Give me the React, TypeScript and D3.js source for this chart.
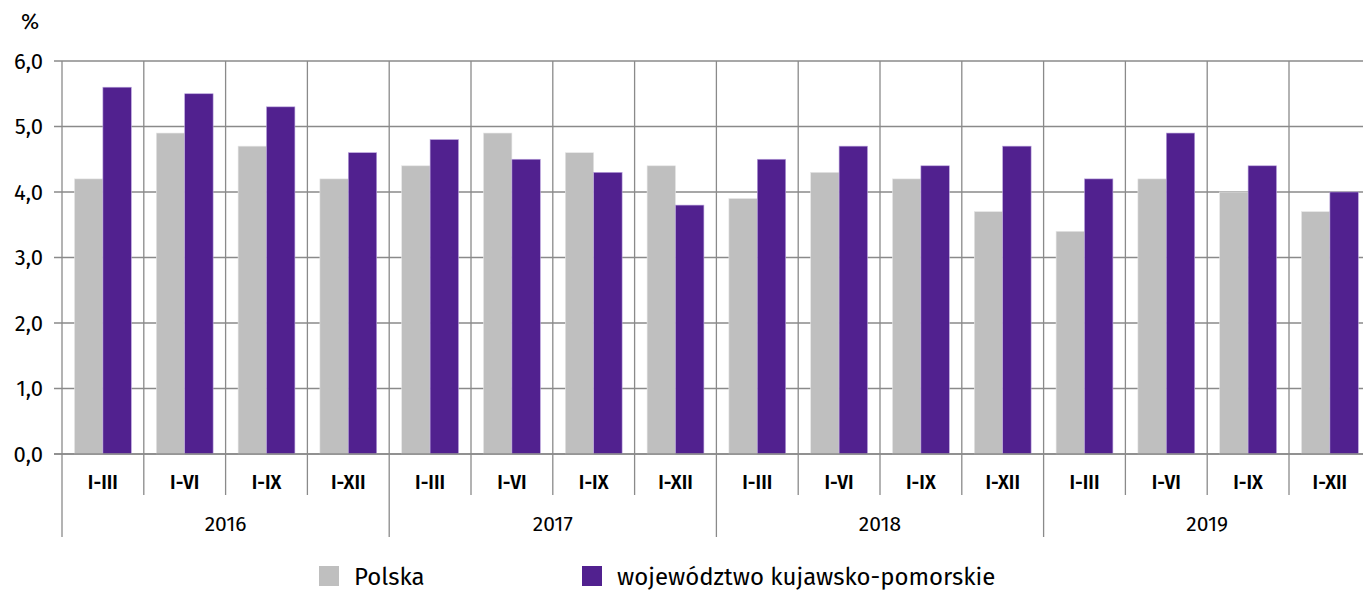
import React from "react";
import * as d3 from "d3";

const years = ["2016", "2017", "2018", "2019"];
const periods = ["I-III", "I-VI", "I-IX", "I-XII"];
const polska = [4.2, 4.9, 4.7, 4.2, 4.4, 4.9, 4.6, 4.4, 3.9, 4.3, 4.2, 3.7, 3.4, 4.2, 4.0, 3.7];
const kujawsko = [5.6, 5.5, 5.3, 4.6, 4.8, 4.5, 4.3, 3.8, 4.5, 4.7, 4.4, 4.7, 4.2, 4.9, 4.4, 4.0];
const yTicks = [0, 1, 2, 3, 4, 5, 6];
const seriesNames = ["Polska", "województwo kujawsko-pomorskie"];
const colors = ["#BFBFBF", "#51218F"];

const W = 1363;
const H = 590;
const left = 62;
const catW = 81.8;
const top = 61;
const bottom = 454;
const FONT = "'Fira Sans', 'Open Sans', 'Noto Sans', sans-serif";

export default function App() {
  const cats = years.flatMap((y) => periods.map((p) => `${y} ${p}`));
  const x = d3.scaleBand<string>().domain(cats).range([left, left + catW * cats.length]).paddingInner(0).paddingOuter(0);
  const inner = d3.scaleBand<string>().domain(["p", "k"]).range([0, x.bandwidth()]).paddingInner(0).paddingOuter(0.44);
  const y = d3.scaleLinear().domain([0, 6]).range([bottom, top]);
  const fmt = (v: number) => d3.format(".1f")(v).replace(".", ",");
  const gridColor = "#8a8a8a";

  return (
    <div style={{ position: "absolute", left: 0, top: 0 }}>
      <svg width={W} height={H} style={{ display: "block" }}>
        <rect width={W} height={H} fill="#fff" />
        {yTicks.map((t) => (
          <line key={"h" + t} x1={left - 8} x2={W} y1={y(t)} y2={y(t)} stroke={gridColor} strokeWidth={1.3} />
        ))}
        {cats.map((c, i) => {
          const xx = x(c)!;
          const isYear = i % 4 === 0;
          return (
            <line key={"v" + c} x1={xx} x2={xx} y1={top} y2={isYear ? 537 : 495} stroke={gridColor} strokeWidth={1.3} />
          );
        })}
        {cats.map((c, i) => (
          <g key={"b" + c} transform={`translate(${x(c)},0)`}>
            <rect x={inner("p")} y={y(polska[i])} width={inner.bandwidth()} height={bottom - y(polska[i])} fill={colors[0]} stroke="#e6e6e6" strokeWidth={0.6} />
            <rect x={inner("k")} y={y(kujawsko[i])} width={inner.bandwidth()} height={bottom - y(kujawsko[i])} fill={colors[1]} stroke="#b9a3dc" strokeWidth={0.6} />
          </g>
        ))}
        <line x1={left - 8} x2={W} y1={bottom} y2={bottom} stroke={gridColor} strokeWidth={1.3} />
        {yTicks.map((t) => (
          <text key={"yl" + t} x={43} y={y(t)} dy="0.35em" textAnchor="end" fontFamily={FONT} fontSize={22} fill="#000">
            {fmt(t)}
          </text>
        ))}
        <text x={30} y={21} dy="0.35em" textAnchor="middle" fontFamily={FONT} fontSize={22} fill="#000">%</text>
        {cats.map((c, i) => (
          <text key={"cl" + c} x={x(c)! + x.bandwidth() / 2} y={482} dy="0.35em" textAnchor="middle" fontFamily={FONT} fontSize={19} fontWeight={600} fill="#000">
            {periods[i % 4]}
          </text>
        ))}
        {years.map((yr, i) => (
          <text key={"yr" + yr} x={left + catW * 4 * i + catW * 2} y={524} dy="0.35em" textAnchor="middle" fontFamily={FONT} fontSize={21} fill="#000">
            {yr}
          </text>
        ))}
        {seriesNames.map((n, i) => {
          const lx = [319, 582][i];
          return (
            <g key={"lg" + n}>
              <rect x={lx} y={566} width={20} height={20} fill={colors[i]} />
              <text x={lx + 35} y={585} fontFamily={FONT} fontSize={24} fill="#000">{n}</text>
            </g>
          );
        })}
      </svg>
    </div>
  );
}
